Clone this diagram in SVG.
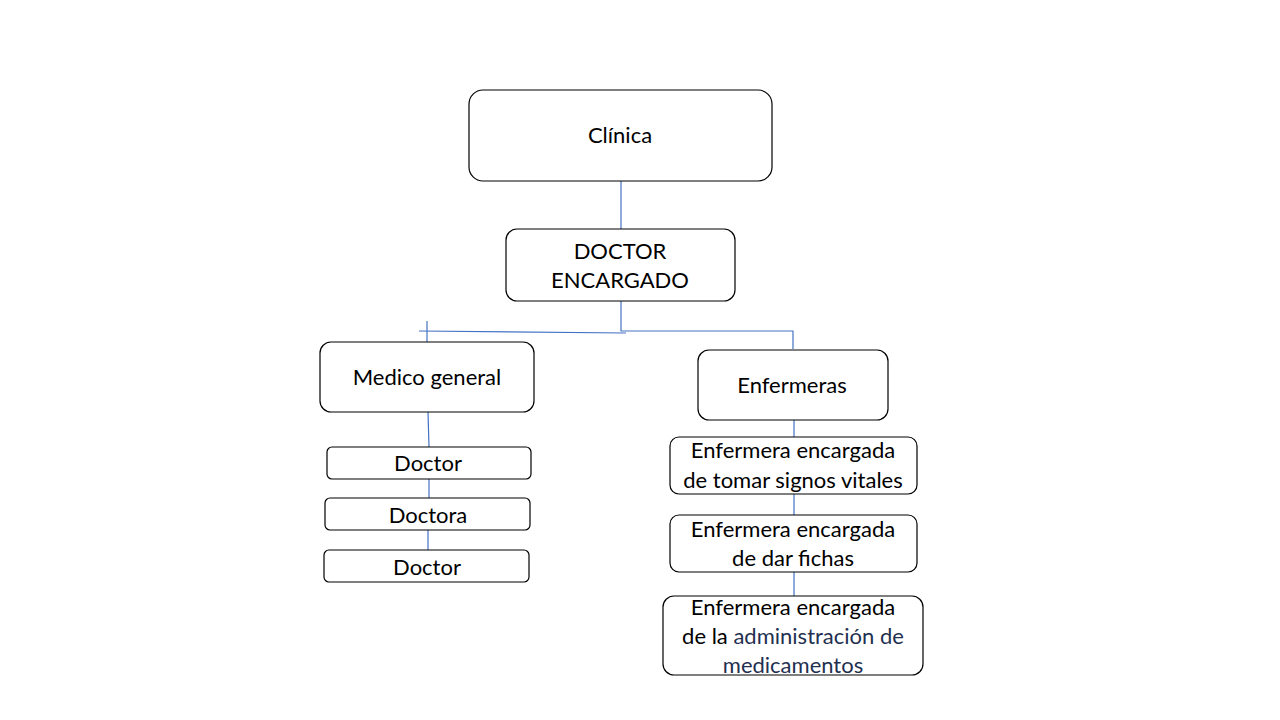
<svg xmlns="http://www.w3.org/2000/svg" width="1280" height="720" viewBox="0 0 1280 720">
<style>
.box{fill:#fff;stroke:#000;stroke-width:1.2}
.t{font-family:Lato,"Open Sans","Liberation Sans",sans-serif;font-size:22px;fill:#000;text-anchor:middle;dominant-baseline:central}
.n{fill:#1f3050}
.c{stroke:#4472c4;stroke-width:1.2;fill:none}
</style>
<rect width="1280" height="720" fill="#fff"/>
<g id="connectors">
<path class="c" d="M621 181V229"/>
<path class="c" d="M621 301V331H793V349"/>
<path class="c" d="M419 331L626 333"/>
<path class="c" d="M427 321V342"/>
<path class="c" d="M428 412L429 447"/>
<path class="c" d="M429 479V498"/>
<path class="c" d="M428 530V550"/>
<path class="c" d="M794 420V437"/>
<path class="c" d="M794 494V515"/>
<path class="c" d="M794 572V596"/>
</g>
<g id="clinica"><rect class="box" x="469" y="90" width="303" height="91" rx="14"/><text class="t" x="620" y="134">Clínica</text></g>
<g id="doctor-encargado"><rect class="box" x="506" y="229" width="229" height="72" rx="11"/><text class="t" x="620" y="250">DOCTOR</text><text class="t" x="620" y="279">ENCARGADO</text></g>
<g id="medico-general"><rect class="box" x="320" y="342" width="214" height="70" rx="11"/><text class="t" x="427" y="376">Medico general</text></g>
<g id="enfermeras"><rect class="box" x="698" y="350" width="190" height="70" rx="11"/><text class="t" x="792" y="384">Enfermeras</text></g>
<g id="doctor1"><rect class="box" x="327" y="447" width="204" height="32" rx="5"/><text class="t" x="428" y="462">Doctor</text></g>
<g id="doctora"><rect class="box" x="325" y="498" width="205" height="32" rx="5"/><text class="t" x="428" y="514">Doctora</text></g>
<g id="doctor2"><rect class="box" x="324" y="550" width="205" height="32" rx="5"/><text class="t" x="427" y="566">Doctor</text></g>
<g id="enf-signos"><rect class="box" x="670" y="437" width="247" height="57" rx="9"/><text class="t" x="793" y="449">Enfermera encargada</text><text class="t" x="793" y="479">de tomar signos vitales</text></g>
<g id="enf-fichas"><rect class="box" x="670" y="515" width="247" height="57" rx="9"/><text class="t" x="793" y="528">Enfermera encargada</text><text class="t" x="793" y="557">de dar fichas</text></g>
<g id="enf-medicamentos"><rect class="box" x="663" y="596" width="260" height="79" rx="11"/><text class="t" x="793" y="606">Enfermera encargada</text><text class="t" x="793" y="635">de la <tspan class="n">administración de</tspan></text><text class="t n" x="793" y="664">medicamentos</text></g>
</svg>
